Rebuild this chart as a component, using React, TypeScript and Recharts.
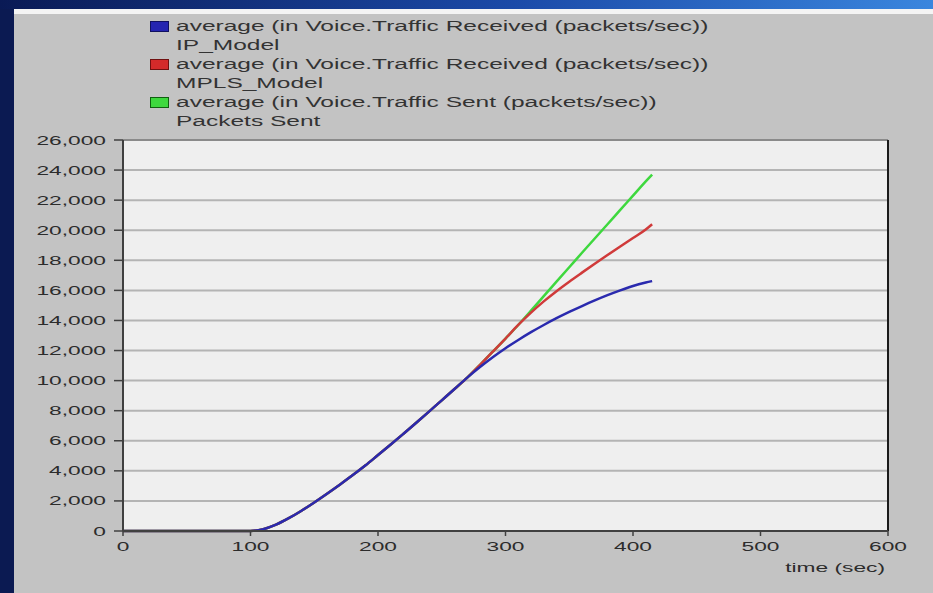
import { LineChart, Line, XAxis, YAxis, CartesianGrid, ReferenceLine } from 'recharts';

// time (sec)
const TIMES = [0, 20, 40, 60, 80, 100, 110, 120, 130, 140, 150, 160, 170, 180, 190, 200, 210, 220, 230, 240, 250, 260,
  270, 280, 290, 300, 310, 320, 330, 340, 350, 360, 370, 380, 390, 400, 410, 415];

const IP_MODEL = [0, 0, 0, 0, 0, 0, 120, 420, 850, 1350, 1900, 2480, 3080, 3700, 4350, 5050, 5750, 6470, 7200, 7940, 8690, 9440,
  10200, 10900, 11550, 12150, 12700, 13220, 13700, 14150, 14570, 14960, 15330, 15680, 16000, 16290, 16520, 16620];

const MPLS_MODEL = [0, 0, 0, 0, 0, 0, 120, 420, 850, 1350, 1900, 2480, 3080, 3700, 4350, 5050, 5750, 6470, 7200, 7940, 8690, 9440,
  10200, 11050, 11920, 12800, 13700, 14520, 15270, 15950, 16580, 17180, 17770, 18350, 18920, 19480, 20050, 20400];

const PACKETS_SENT = [0, 0, 0, 0, 0, 0, 120, 420, 850, 1350, 1900, 2480, 3080, 3700, 4350, 5050, 5750, 6470, 7200, 7940, 8690, 9440,
  10200, 11050, 11920, 12800, 13700, 14650, 15620, 16580, 17540, 18500, 19450, 20400, 21350, 22300, 23250, 23700];

const X_TICKS = [0, 100, 200, 300, 400, 500, 600];
const Y_TICKS = [0, 2000, 4000, 6000, 8000, 10000, 12000, 14000, 16000, 18000, 20000, 22000, 24000, 26000];

const LEGEND = [
  { color: '#2424b0', border: '#101060', line1: 'average (in Voice.Traffic Received (packets/sec))', line2: 'IP_Model' },
  { color: '#d42a2a', border: '#701010', line1: 'average (in Voice.Traffic Received (packets/sec))', line2: 'MPLS_Model' },
  { color: '#3ed83e', border: '#106010', line1: 'average (in Voice.Traffic Sent (packets/sec))', line2: 'Packets Sent' },
];

const data = TIMES.map((t, i) => ({ t, ip: IP_MODEL[i], mpls: MPLS_MODEL[i], sent: PACKETS_SENT[i] }));

const FONT = '"Liberation Sans", Arial, sans-serif';
const STRETCH = 1.75;

const YTick = ({ x, y, payload }: any) => (
  <g transform={`translate(${x},${y}) scale(${STRETCH},1)`}>
    <text x={0} y={0} dy={4.5} textAnchor="end" fontSize={13} fill="#2c2c2c" fontFamily={FONT}>
      {payload.value.toLocaleString('en-US')}
    </text>
  </g>
);

const XTick = ({ x, y, payload }: any) => (
  <g transform={`translate(${x},${y}) scale(${STRETCH},1)`}>
    <text x={0} y={0} dy={11} textAnchor="middle" fontSize={13} fill="#2c2c2c" fontFamily={FONT}>
      {payload.value}
    </text>
  </g>
);

const TimeLabel = ({ viewBox }: any) => (
  <g transform={`translate(${viewBox.x + viewBox.width - 3},${viewBox.y + 41}) scale(${STRETCH},1)`}>
    <text x={0} y={0} textAnchor="end" fontSize={13} fill="#2c2c2c" fontFamily={FONT}>time (sec)</text>
  </g>
);

export default function App() {
  return (
    <div style={{ position: 'absolute', left: 0, top: 0, width: 933, height: 593, background: '#0b1a52', overflow: 'hidden' }}>
      <div style={{ position: 'absolute', left: 0, top: 0, width: 933, height: 9, background: 'linear-gradient(90deg, #0a1a55, #1b4aa8 55%, #3a86de)' }} />
      <div style={{ position: 'absolute', left: 14, top: 9, width: 919, height: 5, background: '#f4f4f4' }} />
      <div style={{ position: 'absolute', left: 14, top: 14, width: 919, height: 579, background: '#c3c3c3' }} />

      <div style={{ position: 'absolute', left: 0, top: 0 }}>
        <LineChart width={933} height={593} data={data} margin={{ top: 140, right: 45, bottom: 12, left: 13 }}>
          <CartesianGrid vertical={false} fill="#efefef" stroke="#b4b4b4" strokeWidth={2} />
          <XAxis
            dataKey="t" type="number" domain={[0, 600]} ticks={X_TICKS} height={50}
            tick={<XTick />} tickSize={5} tickMargin={4}
            axisLine={{ stroke: '#404040', strokeWidth: 2 }} tickLine={{ stroke: '#404040', strokeWidth: 1.5 }}
            label={<TimeLabel />}
          />
          <YAxis
            type="number" domain={[0, 26000]} ticks={Y_TICKS} width={110}
            tick={<YTick />} tickSize={9} tickMargin={8}
            axisLine={{ stroke: '#404040', strokeWidth: 2 }} tickLine={{ stroke: '#404040', strokeWidth: 1.5 }}
          />
          <ReferenceLine y={26000} stroke="#8a8a8a" strokeWidth={2} />
          <ReferenceLine x={600} stroke="#1a1a1a" strokeWidth={2} />
          <Line dataKey="sent" stroke="#3ed83e" strokeWidth={2.5} dot={false} isAnimationActive={false} type="monotone" />
          <Line dataKey="mpls" stroke="#d03a3a" strokeWidth={2.5} dot={false} isAnimationActive={false} type="monotone" />
          <Line dataKey="ip" stroke="#2a2aae" strokeWidth={2.5} dot={false} isAnimationActive={false} type="monotone" />
        </LineChart>
      </div>

      <div style={{ position: 'absolute', left: 150, top: 17, fontFamily: FONT, fontSize: 14, color: '#333', lineHeight: '19px' }}>
        {LEGEND.map((l) => (
          <div key={l.line2}>
            <div style={{ position: 'relative', height: 19 }}>
              <span style={{ position: 'absolute', left: 0, top: 4, width: 17, height: 9, background: l.color, border: `1px solid ${l.border}` }} />
              <span style={{ position: 'absolute', left: 26, top: 0, whiteSpace: 'nowrap', transform: `scaleX(${STRETCH})`, transformOrigin: 'left' }}>{l.line1}</span>
            </div>
            <div style={{ position: 'relative', height: 19 }}>
              <span style={{ position: 'absolute', left: 26, top: 0, whiteSpace: 'nowrap', transform: `scaleX(${STRETCH})`, transformOrigin: 'left' }}>{l.line2}</span>
            </div>
          </div>
        ))}
      </div>
    </div>
  );
}
